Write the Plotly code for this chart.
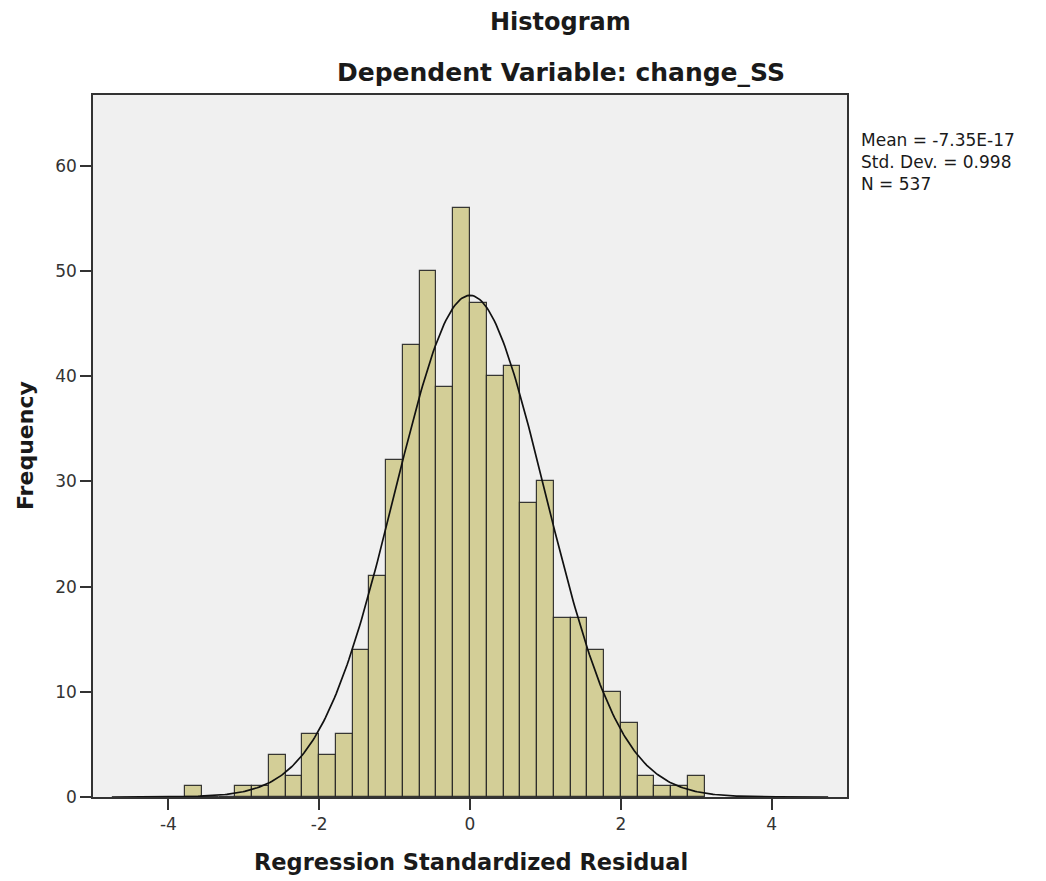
import numpy as np
import plotly.graph_objects as go

# ---- data ----
COUNTS = [1, 0, 0, 1, 1, 4, 2, 6, 4, 6, 14, 21, 32, 43, 50, 39, 56, 47, 40, 41,
          28, 30, 17, 17, 14, 10, 7, 2, 1, 1, 2]
BIN_WIDTH = 2 / 9
FIRST_EDGE = -34 / 9
MEAN = -7.35e-17
SD = 0.998
N = 537
X_TICKS = [-4, -2, 0, 2, 4]
X_TICKTEXT = ["-4", "-2", "0", "2", "4"]
Y_TICKS = [0, 10, 20, 30, 40, 50, 60]
STATS_LINES = ["Mean = -7.35E-17", "Std. Dev. = 0.998", "N = 537"]

centers = [FIRST_EDGE + (i + 0.5) * BIN_WIDTH for i in range(len(COUNTS))]

# fitted normal curve from the stated statistics
xc = np.linspace(-4.75, 4.75, 400)
yc = N * BIN_WIDTH * np.exp(-0.5 * ((xc - MEAN) / SD) ** 2) / (SD * np.sqrt(2 * np.pi))

FONT = "DejaVu Sans"
PW, PH = 754, 702      # plot area size in px
TOP = 95               # plot top in screen px (reference)
LEFT = 93


def py(ypix):
    return 1 + (TOP - ypix) / PH


def px(xpix):
    return (xpix - LEFT) / PW


fig = go.Figure()
fig.add_trace(go.Bar(
    x=centers, y=COUNTS, width=BIN_WIDTH,
    marker=dict(color="#D3CE97", line=dict(color="rgba(35,35,35,0.9)", width=1.2)),
    hoverinfo="x+y", showlegend=False,
))
fig.add_trace(go.Scatter(
    x=xc, y=yc, mode="lines", line=dict(color="#111111", width=1.7),
    showlegend=False, hoverinfo="skip",
))

annotations = [
    dict(text="<b>Histogram</b>", x=px(560), y=py(22), xanchor="center", yanchor="middle",
         font=dict(size=24, color="#1a1a1a", family=FONT)),
    dict(text="<b>Dependent Variable: change_SS</b>", x=px(561), y=py(72),
         xanchor="center", yanchor="middle",
         font=dict(size=25, color="#1a1a1a", family=FONT)),
    dict(text="<b>Regression Standardized Residual</b>", x=px(471), y=py(862),
         xanchor="center", yanchor="middle",
         font=dict(size=22.5, color="#1a1a1a", family=FONT)),
    dict(text="<b>Frequency</b>", x=px(25), y=py(446), xanchor="center", yanchor="middle",
         textangle=-90, font=dict(size=22, color="#1a1a1a", family=FONT)),
    dict(text="<br>".join(STATS_LINES), x=px(859), y=py(162),
         xanchor="left", yanchor="middle", align="left",
         font=dict(size=17, color="#1a1a1a", family=FONT)),
]
for a in annotations:
    a.update(xref="paper", yref="paper", showarrow=False)

# page body adds an 8px offset, so shift margins to land the plot area correctly
fig.update_layout(
    width=1046, height=881,
    margin=dict(l=LEFT - 8, r=1046 - (LEFT - 8) - PW, t=TOP - 8, b=881 - (TOP - 8) - PH),
    paper_bgcolor="white", plot_bgcolor="#F0F0F0",
    bargap=0,
    font=dict(family=FONT, color="#222"),
    xaxis=dict(
        range=[-5, 5], tickvals=X_TICKS, ticktext=X_TICKTEXT,
        ticks="outside", ticklen=11, tickcolor="#333", tickwidth=1.5,
        showline=True, linecolor="#333", linewidth=1.5, mirror=True,
        showgrid=False, zeroline=False,
        tickfont=dict(size=17, color="#333", family=FONT),
    ),
    yaxis=dict(
        range=[0, 66.75], tickvals=Y_TICKS,
        ticks="outside", ticklen=11, tickcolor="#333", tickwidth=1.5,
        showline=True, linecolor="#333", linewidth=1.5, mirror=True,
        showgrid=False, zeroline=False,
        tickfont=dict(size=17, color="#333", family=FONT),
    ),
    annotations=annotations,
)

fig.write_html("out.html")
